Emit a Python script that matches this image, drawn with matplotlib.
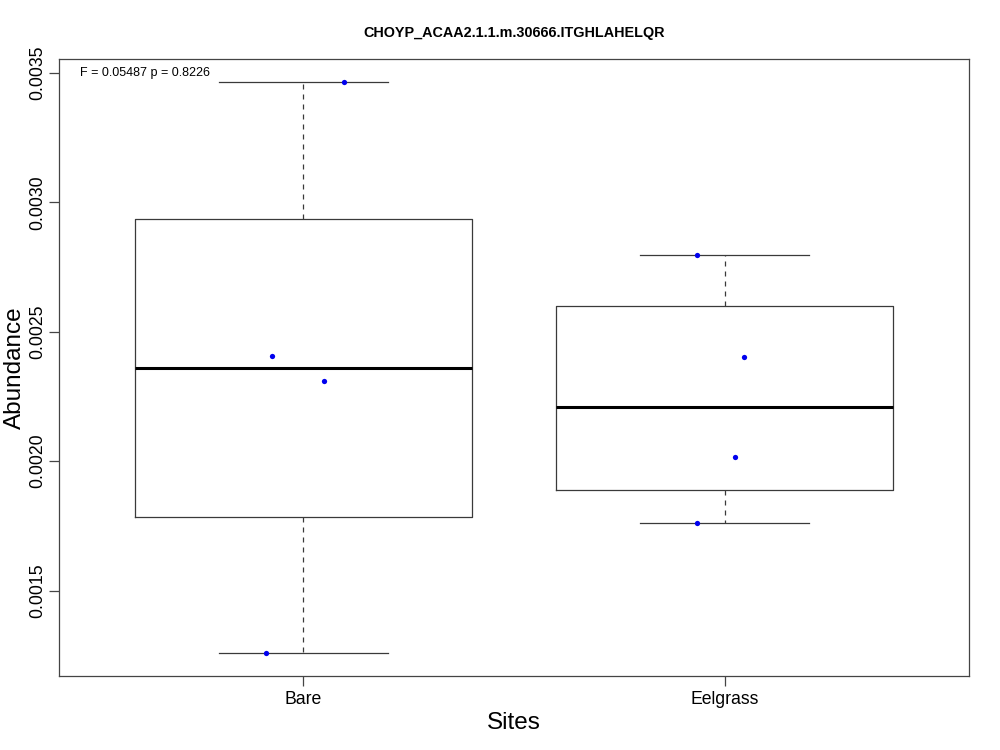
import numpy as np
import matplotlib
matplotlib.use("Agg")
import matplotlib.pyplot as plt

plt.rcParams['font.family'] = ['Liberation Sans', 'DejaVu Sans']

title = "CHOYP_ACAA2.1.1.m.30666.ITGHLAHELQR"
sites = ["Bare", "Eelgrass"]
bare = [0.003466, 0.002405, 0.002311, 0.001258]
eelgrass = [0.002795, 0.002402, 0.002016, 0.001759]
# jittered x positions of the dots
bare_x = [1.097, 0.926, 1.048, 0.912]
eelgrass_x = [1.934, 2.045, 2.024, 1.934]
stat_text = "F = 0.05487 p = 0.8226"


def fivenum(v):
    # Tukey hinges, like R's boxplot.stats
    v = np.sort(np.asarray(v, dtype=float))
    n = len(v)
    n4 = np.floor((n + 3) / 2) / 2
    d = np.array([1, n4, (n + 1) / 2, n + 1 - n4, n]) - 1
    return 0.5 * (v[np.floor(d).astype(int)] + v[np.ceil(d).astype(int)])


groups = [bare, eelgrass]
stats = []
for lab, g in zip(sites, groups):
    lo, q1, med, q3, hi = fivenum(g)
    stats.append(dict(label=lab, whislo=lo, q1=q1, med=med, q3=q3, whishi=hi, fliers=[]))

fig = plt.figure(figsize=(10, 7.5), dpi=100)
ax = fig.add_axes([0.059, 0.0987, 0.91, 0.8227])

edge = "#3a3a3a"
ax.bxp(stats, positions=[1, 2], widths=0.8, showfliers=False,
       boxprops=dict(color=edge, lw=0.9),
       whiskerprops=dict(color=edge, lw=0.9, linestyle=(0, (4, 4))),
       capprops=dict(color=edge, lw=0.9),
       medianprops=dict(color="black", lw=2.2),
       capwidths=0.4)

ax.plot(bare_x, bare, "o", color="#0000ee", ms=3.8, mec="none")
ax.plot(eelgrass_x, eelgrass, "o", color="#0000ee", ms=3.8, mec="none")

allv = np.concatenate(groups)
rng = allv.max() - allv.min()
ax.set_xlim(0.42, 2.58)
ax.set_ylim(allv.min() - 0.04 * rng, allv.max() + 0.04 * rng)

ax.set_yticks([0.0015, 0.0020, 0.0025, 0.0030, 0.0035])
ax.set_yticklabels(["0.0015", "0.0020", "0.0025", "0.0030", "0.0035"],
                   rotation=90, va="center", fontsize=12.7)
ax.set_xticks([1, 2])
ax.set_xticklabels(sites, fontsize=12.7)
ax.tick_params(axis="both", length=7, width=0.9, color="#444444", pad=4)
ax.tick_params(axis="y", pad=2)

ax.set_xlabel("Sites", fontsize=17.5)
ax.set_ylabel("Abundance", fontsize=17.5)
ax.xaxis.set_label_coords(0.5, -0.0765)
ax.yaxis.set_label_coords(-0.0484, 0.5)
ax.yaxis.label.set_va("center")
ax.xaxis.label.set_va("center")
ax.set_title(title, fontsize=10.4, fontweight="bold", pad=16)

for s in ax.spines.values():
    s.set_color("#444444")
    s.set_linewidth(0.9)

ax.text(0.023, 0.0035, stat_text, transform=ax.get_yaxis_transform(),
        fontsize=9, va="center", ha="left")

fig.savefig("out.png", dpi=100)
